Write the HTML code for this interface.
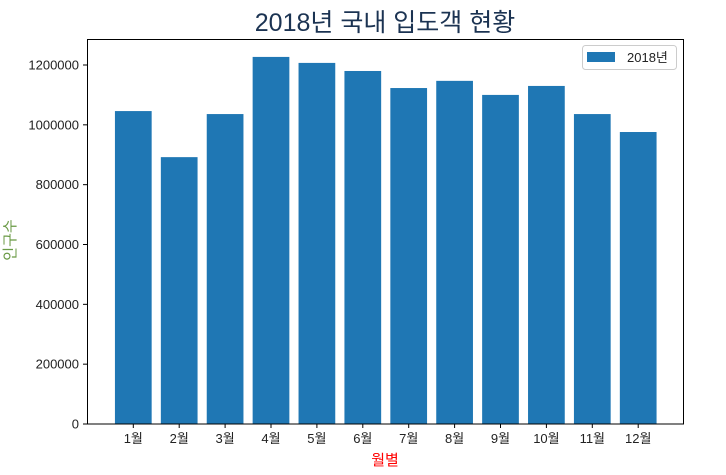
<!DOCTYPE html>
<html><head><meta charset="utf-8"><style>
body{margin:0;background:#fff;}
svg text{font-family:"Liberation Sans","Noto Sans CJK KR",sans-serif;}
</style></head><body>
<svg id="chart" width="726" height="470" viewBox="0 0 726 470">
<text x="385" y="31" text-anchor="middle" font-size="25" fill="#1b3352">2018년 국내 입도객 현황</text>
<g id="bars"></g>
<g id="xticks"></g>
<g id="yticks"></g>
<rect x="87.5" y="39.5" width="596" height="384.5" fill="none" stroke="#000" stroke-width="1"/>
<text x="385" y="465" text-anchor="middle" font-size="15" fill="red">월별</text>
<text transform="translate(15,240) rotate(-90)" text-anchor="middle" font-size="15" fill="#6a9a45">인구수</text>
<g>
<rect x="582.5" y="45.5" width="94" height="24" rx="3" fill="#fff" stroke="#ccc"/>
<rect x="587" y="52" width="28" height="10" fill="#1f77b4"/>
<text x="627" y="62" font-size="13" fill="#222">2018년</text>
</g>
</svg>
<script>
const categories=["1월","2월","3월","4월","5월","6월","7월","8월","9월","10월","11월","12월"];
const values=[1046000,892000,1036000,1227000,1207000,1180000,1123000,1147000,1100000,1130000,1036000,976000];
const yTickValues=[0,200000,400000,600000,800000,1000000,1200000];
const NS="http://www.w3.org/2000/svg";
const x0=133.3, step=45.9, yBase=424, yScale=(424-65)/1200000;
const xPos=i=>x0+i*step;
const yPos=v=>yBase-v*yScale;
const bars=document.getElementById('bars'),xt=document.getElementById('xticks'),yt=document.getElementById('yticks');
categories.forEach((c,i)=>{
  const r=document.createElementNS(NS,'rect');
  const w=step*0.8;
  r.setAttribute('x',xPos(i)-w/2);r.setAttribute('width',w);
  r.setAttribute('y',yPos(values[i]));r.setAttribute('height',yBase-yPos(values[i]));
  r.setAttribute('fill','#1f77b4');
  
  
  bars.appendChild(r);
  const l=document.createElementNS(NS,'line');
  l.setAttribute('x1',xPos(i));l.setAttribute('x2',xPos(i));l.setAttribute('y1',424);l.setAttribute('y2',428);l.setAttribute('stroke','#000');
  
  
  xt.appendChild(l);
  const t=document.createElementNS(NS,'text');
  t.setAttribute('x',xPos(i));t.setAttribute('y',443);t.setAttribute('text-anchor','middle');t.setAttribute('font-size','13');t.setAttribute('fill','#222');
  t.textContent=c;
  
  
  xt.appendChild(t);
});
yTickValues.forEach(v=>{
  const l=document.createElementNS(NS,'line');
  l.setAttribute('x1',83);l.setAttribute('x2',87.5);l.setAttribute('y1',yPos(v));l.setAttribute('y2',yPos(v));l.setAttribute('stroke','#000');
  
  
  yt.appendChild(l);
  const t=document.createElementNS(NS,'text');
  t.setAttribute('x',79);t.setAttribute('y',yPos(v)+4.5);t.setAttribute('text-anchor','end');t.setAttribute('font-size','13');t.setAttribute('fill','#222');
  t.textContent=String(v);
  
  
  yt.appendChild(t);
});
</script>
</body></html>
